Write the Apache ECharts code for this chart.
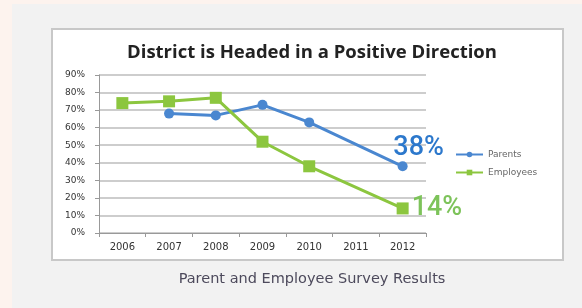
<!DOCTYPE html>
<html>
<head>
<meta charset="utf-8">
<script src="https://cdn.jsdelivr.net/npm/echarts@6/dist/echarts.min.js"></script>
<style>
html,body{margin:0;padding:0;background:#fdf3ee;}
#main{width:582px;height:308px;}
</style>
</head>
<body>
<div id="main"></div>
<script>
// data
var years = ['2006', '2007', '2008', '2009', '2010', '2011', '2012'];
var parents = [null, 68, 67, 73, 63, null, 38];
var employees = [74, 75, 77, 52, 38, null, 14];
var yTicks = [0, 10, 20, 30, 40, 50, 60, 70, 80, 90];

var blue = '#4a87d0';
var green = '#8cc63f';

var myChart = echarts.init(document.getElementById('main'));

function lastLabel(arr, color, pos, offset) {
    return arr.map(function (v, i) {
        if (i !== arr.length - 1) return v;
        return {
            value: v,
            label: {
                show: true, position: pos, offset: offset,
                formatter: '{c}%', color: color,
                fontSize: 27, fontFamily: 'Roboto', fontWeight: 500
            }
        };
    });
}

var option = {
    animation: false,
    backgroundColor: 'transparent',
    graphic: [
        {type: 'rect', shape: {x: 12, y: 4, width: 570, height: 304}, style: {fill: '#f2f2f2'}, z: -10},
        {type: 'rect', shape: {x: 52, y: 29, width: 511, height: 231},
            style: {fill: '#ffffff', stroke: '#c8c8c8', lineWidth: 2}, z: -9}
    ],
    title: [{
        text: 'District is Headed in a Positive Direction',
        left: 307, top: 38, textAlign: 'center',
        textStyle: {fontFamily: 'Open Sans', fontWeight: 'bold', fontSize: 18.5, color: '#222'}
    }, {
        text: 'Parent and Employee Survey Results',
        left: 307, top: 267, textAlign: 'center',
        textStyle: {fontFamily: 'DejaVu Sans', fontWeight: 'normal', fontSize: 14.5, color: '#4d4a5c'}
    }],
    legend: {
        orient: 'vertical', left: 450, top: 145, itemGap: 9,
        itemWidth: 27, itemHeight: 7,
        textStyle: {fontSize: 9, color: '#666', fontFamily: 'DejaVu Sans'},
        data: ['Parents', 'Employees']
    },
    grid: {left: 99, right: 156, top: 75, bottom: 75},
    xAxis: {
        type: 'category', data: years, boundaryGap: true,
        axisLine: {lineStyle: {color: '#999', width: 1}},
        axisTick: {show: true, length: 4, lineStyle: {color: '#999'}},
        axisLabel: {fontSize: 10, color: '#333', margin: 9, fontFamily: 'DejaVu Sans'}
    },
    yAxis: {
        type: 'value', min: 0, max: 90, interval: 10,
        axisLine: {show: true, lineStyle: {color: '#999'}},
        axisTick: {show: true, length: 4, lineStyle: {color: '#999'}},
        axisLabel: {fontSize: 9, color: '#333', margin: 14, fontFamily: 'DejaVu Sans',
            formatter: function (v) { return yTicks.indexOf(v) >= 0 ? v + '%' : ''; }},
        splitLine: {lineStyle: {color: '#bdbdbd', width: 1.5}}
    },
    series: [{
        name: 'Parents', type: 'line', connectNulls: true,
        data: lastLabel(parents, '#2c78cc', 'top', [16, 5]),
        symbol: 'circle', symbolSize: 10,
        lineStyle: {color: blue, width: 3},
        itemStyle: {color: blue}
    }, {
        name: 'Employees', type: 'line', connectNulls: true,
        data: lastLabel(employees, '#7dc35a', 'right', [-2, 0]),
        symbol: 'rect', symbolSize: 12,
        lineStyle: {color: green, width: 3},
        itemStyle: {color: green}
    }]
};
myChart.setOption(option);
</script>
</body>
</html>
